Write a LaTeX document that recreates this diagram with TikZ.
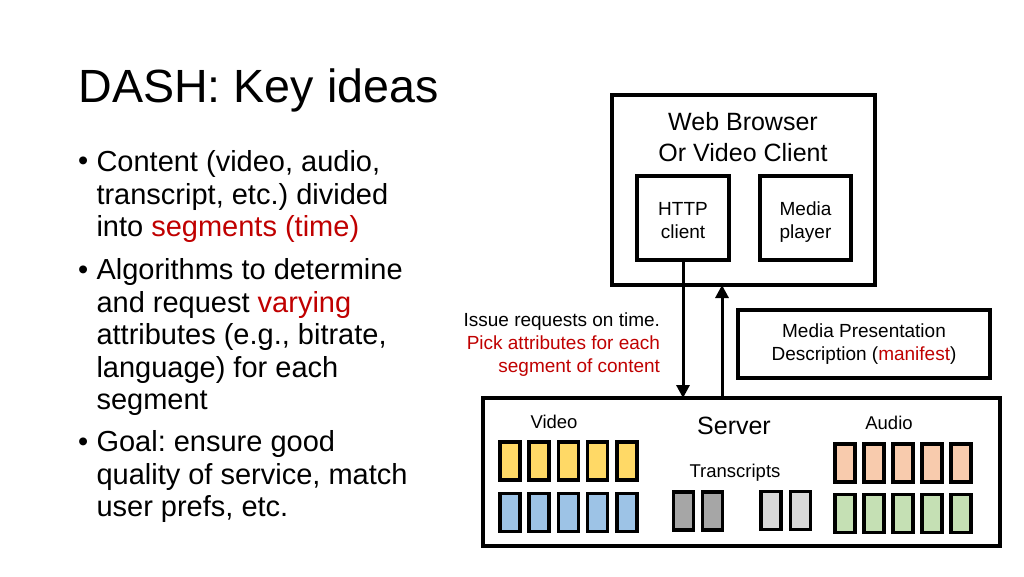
\documentclass[tikz,border=0pt]{standalone}
\usepackage{fontspec}
\setmainfont{Liberation Sans}
\usetikzlibrary{arrows.meta}
\frenchspacing
\definecolor{dred}{HTML}{C00000}
\definecolor{vyellow}{HTML}{FFD966}
\definecolor{vblue}{HTML}{9DC3E6}
\definecolor{aorange}{HTML}{F8CBAD}
\definecolor{agreen}{HTML}{C5E0B4}
\definecolor{tdark}{HTML}{A6A6A6}
\definecolor{tlight}{HTML}{D9D9D9}
\tikzset{
  txt/.style={inner sep=0pt, outer sep=0pt},
  bul/.style={txt, anchor=base west, align=left, font=\fontsize{29}{32.5}\selectfont},
  bigbox/.style={draw, line width=3.5pt, inner sep=0pt, outer sep=0pt},
  seg/.style={draw, line width=3.5pt, minimum width=20pt, minimum height=38pt, inner sep=0pt, outer sep=0pt},
  conn/.style={line width=3pt, -{Triangle[length=13pt,width=13pt]}},
  small/.style={font=\fontsize{19}{23}\selectfont, align=center},
}
\begin{document}
\frenchspacing
\begin{tikzpicture}[x=1pt,y=-1pt]
\useasboundingbox (0,0) rectangle (1024,576);
\fill[white] (0,0) rectangle (1024,576);
% title
\node[txt, anchor=base west, font=\fontsize{46.6}{50}\selectfont] (title) at (78.5,102) {DASH: Key ideas};
% bullets (anchor base = baseline of last line)
\node[bul] (b1m) at (78,170.5) {•};
\node[bul] (b1) at (96.5,236.5) {Content (video, audio,\\transcript, etc.) divided\\into \textcolor{dred}{segments (time)}};
\node[bul] (b2m) at (78,279.5) {•};
\node[bul] (b2) at (96.5,409.5) {Algorithms to determine\\and request \textcolor{dred}{varying}\\attributes (e.g., bitrate,\\language) for each\\segment};
\node[bul] (b3m) at (78,451.5) {•};
\node[bul] (b3) at (96.5,516.5) {Goal: ensure good\\quality of service, match\\user prefs, etc.};
% browser
\node[bigbox, minimum width=263pt, minimum height=190pt] (browser) at (743.5,190) {};
\node[txt, anchor=base, align=center, font=\fontsize{25}{31}\selectfont] (btext) at (743,161) {Web Browser\\Or Video Client};
\node[bigbox, small, minimum width=92pt, minimum height=84pt, text height=40pt, text depth=0pt] (http) at (683,218) {HTTP\\client};
\node[bigbox, small, minimum width=91pt, minimum height=84pt, text height=40pt, text depth=0pt] (media) at (805.5,218) {Media\\player};
% manifest
\node[bigbox, small, minimum width=252pt, minimum height=68pt] (mpd) at (864,344) {Media Presentation\\Description (\textcolor{dred}{manifest})};
% server
\node[bigbox, minimum width=517pt, minimum height=148pt] (server) at (741.5,472) {};
\node[txt, anchor=base, font=\fontsize{18.5}{22}\selectfont] (vlab) at (554,428) {Video};
\node[txt, anchor=base, font=\fontsize{25}{30}\selectfont] (slab) at (734,434) {Server};
\node[txt, anchor=base, font=\fontsize{18.5}{22}\selectfont] (alab) at (889,429) {Audio};
\node[txt, anchor=base, font=\fontsize{18.5}{22}\selectfont] (tlab) at (735,477) {Transcripts};
% request label
\node[txt, anchor=east, align=right, font=\fontsize{19}{23}\selectfont] (req) at (660,345) {Issue requests on time.\\\textcolor{dred}{Pick attributes for each}\\\textcolor{dred}{segment of content}};
% segments
\foreach \i in {0,...,4} {
  \node[seg, fill=vyellow] (vy\i) at (510+29.2*\i,461) {};
  \node[seg, fill=vblue] (vb\i) at (510+29.2*\i,512.5) {};
  \node[seg, fill=aorange] (ao\i) at (845+29*\i,463) {};
  \node[seg, fill=agreen] (ag\i) at (845+29*\i,513.5) {};
}
\node[seg, fill=tdark] (td0) at (683.5,511) {};
\node[seg, fill=tdark] (td1) at (712.5,511) {};
\node[seg, fill=tlight] (tl0) at (771,510.5) {};
\node[seg, fill=tlight] (tl1) at (800.5,510.5) {};
% connectors
\coordinate (upx) at (722,0);
\draw[conn] (http.south) -- (http.south |- server.north);
\draw[conn] (server.north -| upx) -- (browser.south -| upx);
\end{tikzpicture}
\end{document}
